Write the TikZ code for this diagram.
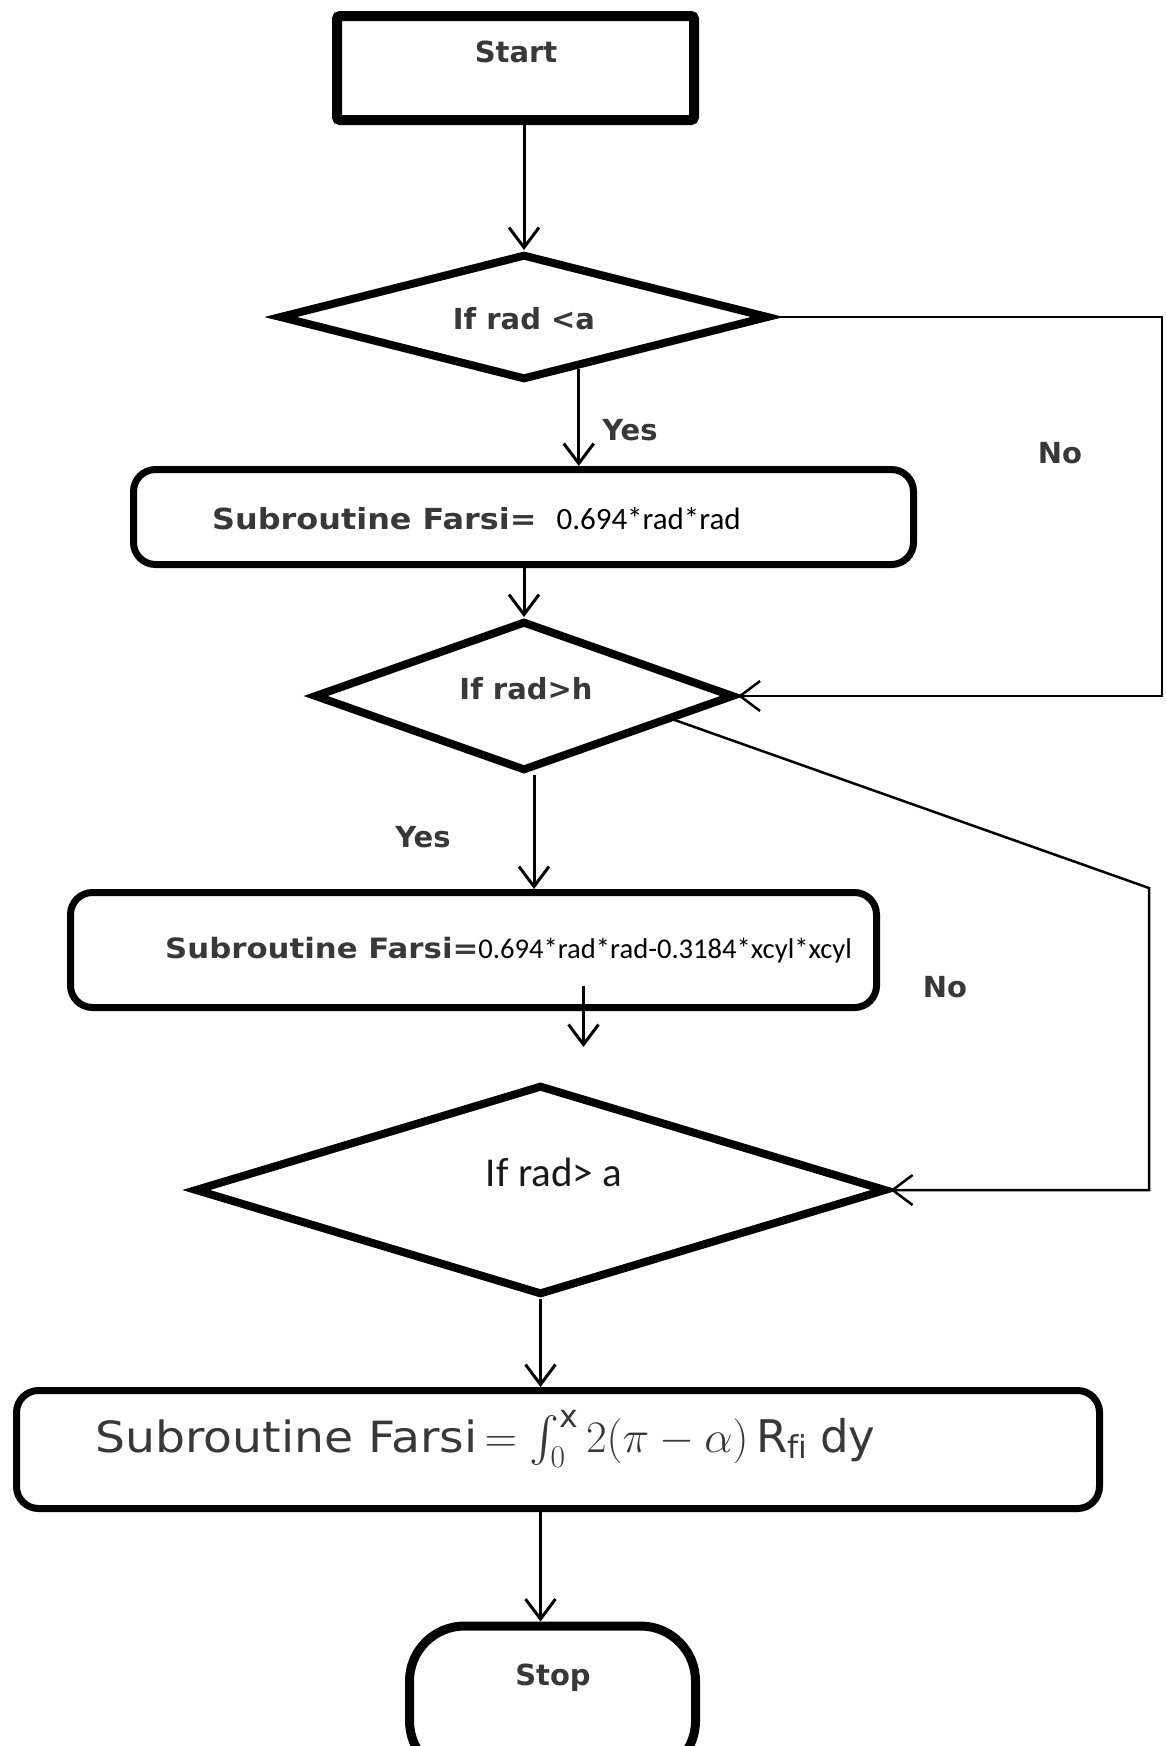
\RequirePackage{fix-cm}
\documentclass[tikz,border=0pt]{standalone}
\DeclareFontShape{OMX}{cmex}{m}{n}{<-> cmex10}{}
\usepackage{fontspec}
\setmainfont{DejaVu Sans}
\newfontfamily\narrowfont{Carlito}
\newfontfamily\widefont[FakeStretch=1.1]{DejaVu Sans}
\usetikzlibrary{shapes.geometric,arrows.meta,calc}

\tikzset{
  shapeline/.style={draw, line width=8pt, inner sep=0pt},
  startbox/.style={shapeline, rectangle, rounded corners=3pt, line width=10pt},
  procbox/.style={shapeline, rectangle, rounded corners=22pt, line width=7pt},
  decision/.style={shapeline, diamond, line width=8pt, line join=miter},
  stopbox/.style={shapeline, rectangle, rounded corners=55pt, line width=9pt},
  lbl/.style={inner sep=0pt, text=black!78, font=\bfseries\fontsize{29}{32}\selectfont},
  arr/.style={-{Straight Barb[length=20pt,width=30pt]}, line width=3pt},
  loopline/.style={arr, line width=2.5pt}
}

\begin{document}
\begin{tikzpicture}[x=1pt,y=-1pt]
  \useasboundingbox (0,0) rectangle (1166,1746);

  \node[startbox, minimum width=357pt, minimum height=104pt] (start) at (515.5,68) {};
  \node[decision, minimum width=490pt, minimum height=126pt] (d1) at (524,317) {};
  \node[procbox, minimum width=780pt, minimum height=95pt] (box2) at (523.5,517) {};
  \node[decision, minimum width=420pt, minimum height=150pt] (d2) at (524,696) {};
  \node[procbox, minimum width=806pt, minimum height=115pt] (box3) at (473.5,950) {};
  \node[decision, minimum width=692pt, minimum height=210pt] (d3) at (540.5,1190) {};
  \node[procbox, minimum width=1083pt, minimum height=118pt] (box4) at (558,1449.5) {};
  \node[stopbox, minimum width=286pt, minimum height=150pt] (stop) at (552.5,1701) {};

  \node[lbl] (tstart) at (516,52) {Start};
  \node[lbl] (td1) at (524,319) {If rad <a};
  \node[lbl, anchor=west] (tb2) at (212,519)
    {\widefont\bfseries Subroutine Farsi=\hspace{20pt}{\narrowfont\mdseries\fontsize{31}{34}\selectfont\color{black}0.694*rad*rad}};
  \node[lbl] (td2) at (526,689) {If rad>h};
  \node[lbl, anchor=west] (tb3) at (165,950)
    {{\widefont\bfseries\fontsize{28}{32}\selectfont Subroutine Farsi=}{\narrowfont\mdseries\fontsize{28.6}{32}\selectfont\color{black}0.694*rad*rad-0.3184*xcyl*xcyl}};
  \node[lbl, text=black!90, font=\narrowfont\fontsize{41}{45}\selectfont] (td3) at (554,1172) {If rad> a};
  \node[lbl, anchor=west, font=\fontsize{43}{48}\selectfont] (tb4) at (95,1439)
    {{\widefont Subroutine Farsi}\,{\fontsize{45}{50}\selectfont$= \int_0^{\mathrm{x}} 2(\pi-\alpha)\,\mathrm{R_{fi}}\;\mathrm{dy}$}};
  \node[lbl] (tstop) at (553,1678) {Stop};

  \node[lbl] (yes1) at (630,430) {Yes};
  \node[lbl] (yes2) at (423,837) {Yes};
  \node[lbl] (no1) at (1060,453) {No};
  \node[lbl] (no2) at (945,987) {No};

  \coordinate (r1) at (1162,0);
  \coordinate (r2) at (1149,888);
  \coordinate (y1) at ($(d1.south)!.22!(d1.east)$);

  \draw[arr] (start.south -| d1.north) -- (d1.north);
  \draw[arr] (y1) -- (y1 |- box2.north);
  \draw[arr] (box2.south -| d2.north) -- (d2.north);
  \draw[loopline] (d1.east) -- (d1.east -| r1) |- (d2.east);
  \draw[arr] ([xshift=10pt]d2.south) -- ([xshift=10pt]d2.south |- box3.north);
  \draw[loopline] ($(d2.east)!.3!(d2.south)$) -- (r2) |- (d3.east);
  \draw[arr] ([xshift=110pt,yshift=25pt]box3.south) -- ++(0,61);
  \draw[arr] (d3.south) -- (d3.south |- box4.north);
  \draw[arr] (d3.south |- box4.south) -- (d3.south |- stop.north);
\end{tikzpicture}
\end{document}
